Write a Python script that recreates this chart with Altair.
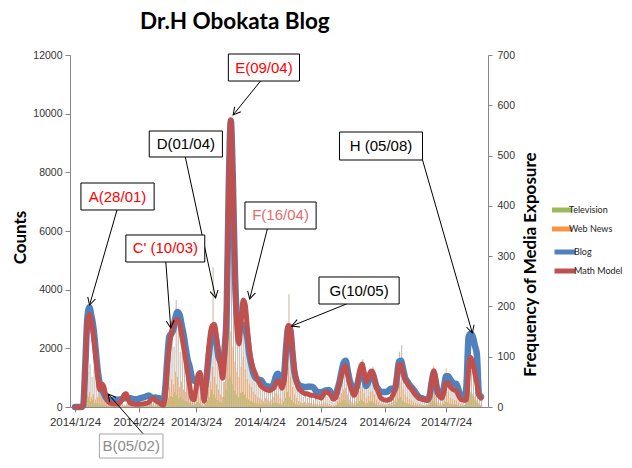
import altair as alt
import pandas as pd

START = "2014-01-24"

# Daily values (left axis: counts)
blog = [
    0, 0, 0, 0, 50, 1400, 3000, 3400, 3100, 2700,
    2000, 1300, 800, 600, 480, 330, 250, 220, 230, 240,
    250, 250, 260, 280, 300, 300, 290, 300, 280, 260,
    260, 280, 300, 320, 340, 370, 390, 340, 300, 320,
    310, 300, 220, 160, 600, 1600, 2400, 2500, 2650, 3050,
    3240, 3150, 2800, 2450, 2000, 1600, 1350, 1000, 900, 880,
    900, 880, 800, 620, 900, 1600, 2200, 2500, 2540, 2200,
    1700, 1550, 1480, 2000, 3300, 7500, 9750, 7700, 4600, 3100,
    2830, 2800, 2790, 2650, 2400, 1800, 1450, 1150, 1000, 950,
    920, 900, 780, 720, 700, 690, 700, 800, 1050, 1130,
    950, 800, 1100, 2050, 2700, 2650, 1900, 1200, 900, 760,
    720, 700, 680, 680, 700, 690, 680, 600, 520, 500,
    500, 520, 560, 570, 570, 450, 320, 350, 600, 850,
    1200, 1500, 1580, 1250, 900, 700, 560, 600, 850, 1150,
    1250, 1000, 720, 850, 1100, 1150, 950, 700, 600, 520,
    510, 510, 510, 560, 620, 620, 610, 1000, 1550, 1580,
    1300, 1000, 880, 760, 680, 600, 500, 400, 320, 300,
    280, 260, 250, 400, 850, 1150, 850, 480, 420, 400,
    700, 1050, 1050, 950, 850, 800, 790, 600, 400, 300,
    260, 800, 2400, 2500, 2400, 2100, 1800, 450, 350,
]
model = [
    0, 0, 0, 0, 50, 1300, 2900, 3150, 2900, 2400,
    1800, 1100, 600, 780, 700, 380, 200, 130, 120, 100,
    100, 100, 150, 250, 420, 450, 250, 130, 100, 100,
    90, 90, 100, 100, 120, 130, 160, 250, 300, 250,
    180, 150, 100, 60, 400, 1400, 2100, 2500, 2850, 2950,
    2970, 2850, 2450, 2050, 1600, 1150, 700, 300, 250, 600,
    1100, 1180, 700, 200, 800, 1800, 2500, 2780, 2810, 2400,
    1900, 1400, 980, 1800, 3700, 7600, 9790, 7800, 4500, 2600,
    2150, 2900, 3650, 3500, 2750, 2000, 1550, 1300, 1130, 950,
    800, 700, 650, 600, 580, 560, 600, 650, 800, 900,
    800, 640, 900, 1950, 2780, 2750, 2000, 1300, 900, 650,
    560, 500, 460, 450, 430, 400, 400, 380, 350, 340,
    300, 400, 510, 500, 460, 380, 260, 300, 550, 800,
    1100, 1350, 1410, 1100, 780, 550, 400, 500, 900, 1300,
    1470, 1200, 860, 950, 1200, 1230, 1000, 700, 500, 320,
    270, 240, 230, 250, 280, 400, 570, 1000, 1450, 1440,
    1200, 920, 820, 700, 620, 520, 420, 350, 300, 280,
    250, 240, 230, 400, 900, 1240, 900, 450, 350, 300,
    550, 830, 820, 700, 620, 580, 550, 400, 280, 240,
    230, 250, 1300, 1700, 1500, 1150, 800, 400, 300,
]
# Daily media exposure (right axis)
other_media = [
    0, 0, 0, 0, 5, 30, 70, 85, 60, 75,
    50, 45, 35, 25, 30, 15, 10, 5, 8, 6,
    4, 10, 12, 6, 5, 8, 15, 7, 5, 6,
    4, 8, 10, 6, 12, 8, 5, 15, 10, 6,
    8, 12, 5, 8, 20, 60, 110, 140, 120, 213,
    180, 110, 130, 90, 70, 60, 40, 25, 20, 35,
    55, 45, 20, 10, 40, 90, 140, 278, 160, 110,
    80, 60, 50, 120, 250, 420, 560, 380, 240, 170,
    140, 190, 200, 170, 120, 95, 80, 65, 55, 45,
    40, 35, 30, 40, 35, 30, 35, 45, 60, 55,
    40, 35, 70, 120, 224, 140, 90, 60, 40, 30,
    25, 20, 25, 18, 22, 20, 15, 18, 15, 12,
    15, 20, 22, 20, 15, 10, 8, 12, 30, 50,
    70, 85, 90, 60, 40, 25, 20, 30, 55, 80,
    95, 70, 45, 55, 75, 80, 60, 40, 25, 18,
    15, 12, 12, 15, 18, 25, 35, 70, 110, 123,
    85, 60, 50, 40, 35, 28, 22, 18, 15, 12,
    10, 10, 12, 25, 55, 75, 50, 25, 20, 18,
    40, 60, 55, 45, 40, 35, 32, 22, 15, 12,
    10, 30, 60, 73, 65, 50, 35, 20, 12,
]
web_news = [
    0, 0, 0, 0, 0, 10, 25, 30, 20, 25,
    15, 20, 30, 60, 25, 10, 5, 3, 5, 4,
    2, 6, 8, 4, 3, 5, 10, 4, 3, 4,
    2, 5, 6, 4, 8, 5, 3, 10, 6, 4,
    5, 8, 3, 5, 10, 25, 40, 55, 45, 70,
    60, 40, 50, 35, 30, 60, 20, 10, 8, 15,
    25, 20, 10, 5, 15, 35, 50, 80, 60, 45,
    35, 25, 20, 50, 100, 180, 150, 120, 90, 70,
    60, 80, 100, 75, 55, 45, 40, 30, 25, 20,
    18, 15, 12, 18, 15, 12, 15, 20, 28, 25,
    18, 15, 30, 50, 80, 60, 40, 25, 18, 12,
    10, 8, 10, 7, 9, 8, 6, 7, 6, 5,
    6, 8, 9, 8, 6, 4, 3, 5, 12, 20,
    28, 35, 38, 25, 15, 10, 8, 12, 22, 32,
    40, 28, 18, 22, 30, 32, 25, 15, 10, 7,
    6, 5, 5, 6, 7, 10, 14, 28, 45, 50,
    35, 25, 20, 16, 14, 11, 9, 7, 6, 5,
    4, 4, 5, 12, 40, 82, 30, 10, 8, 7,
    30, 77, 30, 18, 16, 14, 13, 9, 6, 5,
    4, 12, 25, 30, 26, 20, 14, 8, 5,
]
television = [
    0, 0, 0, 0, 0, 5, 15, 20, 12, 15,
    8, 8, 6, 5, 5, 3, 2, 1, 2, 1,
    1, 2, 3, 1, 1, 2, 3, 1, 1, 1,
    1, 2, 2, 1, 3, 2, 1, 3, 2, 1,
    2, 3, 1, 2, 4, 10, 18, 22, 20, 30,
    25, 18, 20, 15, 12, 10, 8, 5, 4, 6,
    10, 8, 4, 2, 6, 14, 20, 35, 25, 18,
    14, 10, 8, 20, 35, 55, 60, 45, 32, 25,
    20, 28, 30, 25, 18, 15, 12, 10, 8, 7,
    6, 5, 5, 6, 5, 5, 5, 7, 9, 8,
    6, 5, 10, 18, 30, 20, 14, 9, 6, 5,
    4, 3, 4, 3, 3, 3, 2, 3, 2, 2,
    2, 3, 3, 3, 2, 2, 1, 2, 4, 8,
    10, 13, 14, 9, 6, 4, 3, 4, 8, 12,
    15, 11, 7, 8, 11, 12, 9, 6, 4, 3,
    2, 2, 2, 2, 3, 4, 5, 10, 17, 20,
    13, 9, 8, 6, 5, 4, 3, 3, 2, 2,
    2, 2, 2, 4, 9, 12, 8, 4, 3, 3,
    6, 10, 9, 7, 6, 5, 5, 3, 2, 2,
    2, 6, 20, 28, 22, 15, 10, 5, 3,
]

# Callouts (positions in days after 2014-01-24 and in counts)
ann_label = ["A(28/01)", "B(05/02)", "C' (10/03)", "D(01/04)", "E(09/04)", "F(16/04)", "G(10/05)", "H (05/08)"]
ann_color = ["#ff0000", "#8c8c8c", "#ff0000", "#000000", "#ff0000", "#e36c6c", "#000000", "#000000"]
ann_box = ["black", "grey", "black", "black", "black", "black", "black", "black"]
box_d1 = [2.9, 11.9, 24.8, 36.2, 74.8, 82.9, 119.0, 129.0]
box_d2 = [38.6, 42.9, 63.3, 71.9, 109.5, 117.6, 158.1, 169.5]
box_c1 = [7636, -920, 5864, 9409, 12034, 6989, 4432, 9375]
box_c2 = [6716, -1740, 4943, 8523, 11113, 6068, 3511, 8420]
arr_d1 = [20.5, 33.3, 44.3, 53.8, 90.5, 93.8, 132.4, 169.5]
arr_c1 = [6716, -920, 4943, 8523, 11113, 6068, 3511, 8420]
arr_d2 = [7.1, 16.2, 46.7, 68.6, 77.1, 85.2, 105.7, 193.8]
arr_c2 = [3477, 443, 2693, 3716, 9954, 3682, 2761, 2523]
arr_angle = [195.9, 321.3, 175.7, 167.6, 219.5, 194.4, 248.6, 163.6]

n = len(model)
base = pd.Timestamp(START)
dates = pd.date_range(START, periods=n, freq="D")

lines_df = pd.DataFrame({
    "date": list(dates) * 2,
    "series": ["Blog"] * n + ["Math Model"] * n,
    "value": blog + model,
})
bars_df = pd.DataFrame({"date": dates, "other": other_media})
media_df = pd.DataFrame({
    "date": list(dates) * 2,
    "media": ["Television"] * n + ["Web News"] * n,
    "freq": television + web_news,
})

def d(days):
    return [base + pd.to_timedelta(v, unit="D") for v in days]

ann_df = pd.DataFrame({
    "label": ann_label, "tcolor": ann_color, "box": ann_box,
    "bx1": d(box_d1), "bx2": d(box_d2), "by1": box_c1, "by2": box_c2,
    "tx": d([(a + b) / 2 for a, b in zip(box_d1, box_d2)]),
    "ty": [(a + b) / 2 for a, b in zip(box_c1, box_c2)],
    "ax1": d(arr_d1), "ay1": arr_c1, "ax2": d(arr_d2), "ay2": arr_c2,
    "ang": arr_angle,
})

XS = alt.Scale(domain=[alt.DateTime(year=2014, month=1, date=24), alt.DateTime(year=2014, month=8, date=11)])
YL = alt.Scale(domain=[0, 12000], nice=False)
YR = alt.Scale(domain=[0, 700], nice=False)
AXC = "#868686"

x_axis = alt.Axis(
    values=[alt.DateTime(year=2014, month=m, date=24) for m in range(1, 8)],
    format="%Y/%-m/%-d", labelFont="Liberation Sans", labelFontSize=11.5, labelColor="#333333",
    tickSize=5, tickColor=AXC, domainColor=AXC, labelPadding=4, grid=False, title=None,
    labelOverlap=False, labelFlush=False,
)
left_axis = alt.Axis(
    orient="left", values=list(range(0, 12001, 2000)), format="d", title="Counts",
    titleFont="Lato", titleFontSize=17, titleFontWeight="bold", titleColor="black",
    titleAngle=270, titleX=-50, titleY=182, titleAlign="center", titleBaseline="middle",
    labelFont="Liberation Sans", labelFontSize=10.5, labelColor="#333333",
    tickSize=5, tickColor=AXC, domainColor=AXC, labelPadding=3, grid=False,
)
right_axis = alt.Axis(
    orient="right", values=list(range(0, 701, 100)), format="d", title="Frequency of Media Exposure",
    titleFont="Lato", titleFontSize=17, titleFontWeight="bold", titleColor="black",
    titleAngle=270, titleX=42, titleY=209, titleAlign="center", titleBaseline="middle",
    labelFont="Liberation Sans", labelFontSize=10.5, labelColor="#333333",
    tickSize=4, tickColor=AXC, domainColor=AXC, labelPadding=5, grid=False,
)

LEG_X = 482
media_scale = alt.Scale(domain=["Television", "Web News"], range=["#9BBB59", "#F79646"])
media_legend = alt.Legend(
    orient="none", legendX=LEG_X, legendY=145, title=None, padding=0,
    symbolType="M-1,-0.25H1V0.25H-1Z", symbolSize=400, symbolStrokeWidth=0,
    labelFont="Lato", labelFontSize=9, labelColor="#222222", labelOffset={"expr": "-3"}, rowPadding=4,
)

def line_legend(y):
    return alt.Legend(
        orient="none", legendX=LEG_X, legendY=y, title=None, padding=0,
        symbolType="M-1,0H1", symbolSize=441, symbolStrokeWidth=5,
        labelFont="Lato", labelFontSize=9, labelColor="#222222", labelOffset={"expr": "-4"},
    )

def X(field):
    return alt.X(field, scale=XS, axis=x_axis)

other_bars = alt.Chart(bars_df).mark_bar(width=1, xOffset=0.7, color="#c0b6a9").encode(
    x=X("date:T"),
    y=alt.Y("other:Q", scale=YR, axis=right_axis),
)
tv_bars = alt.Chart(media_df).transform_filter(alt.datum.media == "Television").mark_bar(
    width=0.7, xOffset=-0.7).encode(
    x=X("date:T"),
    y=alt.Y("freq:Q", scale=YR, axis=None),
    color=alt.Color("media:N", scale=media_scale, legend=media_legend),
)
web_bars = alt.Chart(media_df).transform_filter(alt.datum.media == "Web News").mark_bar(
    width=0.7, xOffset=0).encode(
    x=X("date:T"),
    y=alt.Y("freq:Q", scale=YR, axis=None),
    color=alt.Color("media:N", scale=media_scale, legend=media_legend),
)

blog_line = alt.Chart(lines_df).transform_filter(alt.datum.series == "Blog").mark_line(
    interpolate="monotone", strokeWidth=6.5, strokeCap="round", strokeJoin="round").encode(
    x=X("date:T"),
    y=alt.Y("value:Q", scale=YL, axis=left_axis),
    stroke=alt.Stroke("series:N", scale=alt.Scale(domain=["Blog"], range=["#4F81BD"]),
                      legend=line_legend(184)),
)
model_line = alt.Chart(lines_df).transform_filter(alt.datum.series == "Math Model").mark_line(
    interpolate="monotone", strokeWidth=5, strokeCap="round", strokeJoin="round").encode(
    x=X("date:T"),
    y=alt.Y("value:Q", scale=YL, axis=None),
    stroke=alt.Stroke("series:N", scale=alt.Scale(domain=["Math Model"], range=["#C0504D"]),
                      legend=line_legend(203)),
)

arrows = alt.Chart(ann_df).mark_rule(color="black", strokeWidth=1).encode(
    x=X("ax1:T"), x2="ax2:T",
    y=alt.Y("ay1:Q", scale=YL, axis=None), y2="ay2:Q",
)
heads = alt.Chart(ann_df).mark_point(
    shape="M-0.7,1.3L0,0L0.7,1.3", filled=False, color="black", strokeWidth=1, size=130, opacity=1).encode(
    x=X("ax2:T"),
    y=alt.Y("ay2:Q", scale=YL, axis=None),
    angle=alt.Angle("ang:Q", scale=None),
)
boxes_black = alt.Chart(ann_df).transform_filter(alt.datum.box == "black").mark_rect(
    fill="white", stroke="black", strokeWidth=1).encode(
    x=X("bx1:T"), x2="bx2:T",
    y=alt.Y("by1:Q", scale=YL, axis=None), y2="by2:Q",
)
boxes_grey = alt.Chart(ann_df).transform_filter(alt.datum.box == "grey").mark_rect(
    fill="white", stroke="#a6a6a6", strokeWidth=1).encode(
    x=X("bx1:T"), x2="bx2:T",
    y=alt.Y("by1:Q", scale=YL, axis=None), y2="by2:Q",
)
texts = alt.Chart(ann_df).mark_text(font="Liberation Sans", fontSize=15, align="center", baseline="middle").encode(
    x=X("tx:T"),
    y=alt.Y("ty:Q", scale=YL, axis=None),
    text="label:N",
    fill=alt.Fill("tcolor:N", scale=None),
)

chart = alt.layer(
    other_bars, web_bars, tv_bars, blog_line, model_line,
    arrows, heads, boxes_black, boxes_grey, texts,
).resolve_scale(y="independent", stroke="independent").properties(
    width=418, height=352,
    title=alt.Title("Dr.H Obokata Blog", anchor="start", frame="group", dx=70, offset=17,
                    font="Lato", fontSize=22.5, fontWeight="bold", color="black"),
    autosize=alt.AutoSizeParams(type="none"),
    padding={"left": 62, "top": 47, "right": 136, "bottom": 53},
).configure_view(stroke=None)

chart.save("out.html", embed_options={"renderer": "svg", "actions": False})
